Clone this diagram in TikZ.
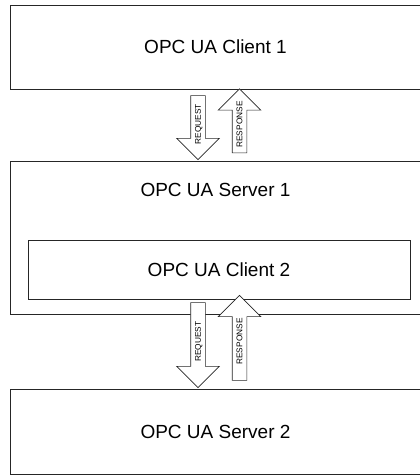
\documentclass[tikz,border=0pt]{standalone}
\usepackage{fontspec}
\setmainfont{Liberation Sans}
\usetikzlibrary{shapes.arrows}

\begin{document}
\begin{tikzpicture}[x=1pt,y=-1pt,
    box/.style={draw=black!85, line width=0.9pt, inner sep=0pt},
    bigtext/.style={font=\fontsize{19}{22}\selectfont},
    blockarrow/.style={single arrow, draw=black!85, fill=white, line width=0.6pt, rotate=90,
        single arrow head extend=14pt, single arrow tip angle=90,
        inner xsep=0pt, inner ysep=3.75pt, text height=6pt, text depth=0.5pt,
        font=\fontsize{8.3}{9}\selectfont},
    pointdown/.style={shape border rotate=180}]
    \useasboundingbox (0,0) rectangle (420,475);
    \clip (0,0) rectangle (420,475);
    \node[box, bigtext, minimum width=411pt, minimum height=84pt] (client1) at (215.5,47) {OPC UA Client 1};
    \node[box, minimum width=411pt, minimum height=153pt] (server1) at (215.5,237.5) {};
    \node[bigtext] (server1text) at (215.5,190) {OPC UA Server 1};
    \node[box, bigtext, minimum width=382pt, minimum height=59pt] (client2) at (219,269.5) {OPC UA Client 2};
    \node[box, bigtext, minimum width=411pt, minimum height=85pt] (server2) at (215.5,431.5) {OPC UA Server 2};
    \node[blockarrow, pointdown, minimum height=64pt] (request1) at (198,124) {REQUEST};
    \node[blockarrow, minimum height=64pt] (response1) at (239.5,124.5) {RESPONSE};
    \node[blockarrow, pointdown, minimum height=85pt] (request2) at (198,341.5) {REQUEST};
    \node[blockarrow, minimum height=85pt] (response2) at (239.5,341.5) {RESPONSE};
\end{tikzpicture}
\end{document}
